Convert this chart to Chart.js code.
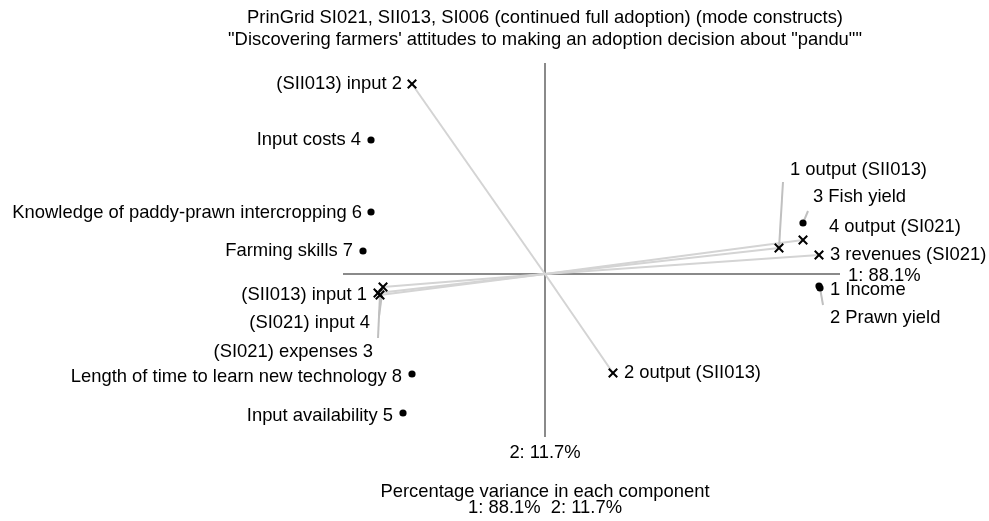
<!DOCTYPE html>
<html>
<head>
<meta charset="utf-8">
<script src="https://cdn.jsdelivr.net/npm/chart.js@4/dist/chart.umd.min.js"></script>
<style>
  html, body { margin: 0; padding: 0; background: #fff; }
  #wrap { width: 989px; height: 521px; position: relative; }
</style>
</head>
<body>
<div id="wrap"><canvas id="c"></canvas></div>
<script>
// ---- Data: principal component scores (component 1, component 2) ----
const titleLines = [
  'PrinGrid SI021, SII013, SI006 (continued full adoption) (mode constructs)',
  '"Discovering farmers\' attitudes to making an adoption decision about "pandu""'
];
const varianceShares = [88.1, 11.7];

// Elements (dots)
const elementNames = [
  'Input costs 4',
  'Knowledge of paddy-prawn intercropping 6',
  'Farming skills 7',
  'Length of time to learn new technology 8',
  'Input availability 5',
  '3 Fish yield',
  '1 Income',
  '2 Prawn yield'
];
const elementPC1 = [-1.74, -1.74, -1.82, -1.33, -1.42, 2.58, 2.74, 2.75];
const elementPC2 = [ 1.34,  0.62,  0.23, -1.00, -1.39, 0.51, -0.12, -0.14];

// Constructs (crosses, joined to the origin)
const constructNames = [
  '(SII013) input 2',
  '(SII013) input 1',
  '(SI021) input 4',
  '(SI021) expenses 3',
  '2 output (SII013)',
  '1 output (SII013)',
  '4 output (SI021)',
  '3 revenues (SI021)'
];
const constructPC1 = [-1.33, -1.67, -1.62, -1.65, 0.68, 2.34, 2.58, 2.74];
const constructPC2 = [ 1.90, -0.19, -0.13, -0.21, -0.99, 0.26, 0.34, 0.19];

// Extent of the drawn component axes
const axis1Span = [-2.02, 2.95];
const axis2Span = [-1.63, 2.11];

// ---- Layout: label placement in pixels relative to each mark ----
// dx/dy: text anchor offset; align: text alignment; leader: end of connector line
const labelPlacement = {
  'Input costs 4': { dx: -10, dy: 0, align: 'right' },
  'Knowledge of paddy-prawn intercropping 6': { dx: -9, dy: 1, align: 'right' },
  'Farming skills 7': { dx: -10, dy: 0, align: 'right' },
  'Length of time to learn new technology 8': { dx: -10, dy: 3, align: 'right' },
  'Input availability 5': { dx: -10, dy: 3, align: 'right' },
  '3 Fish yield': { dx: 10, dy: -26, align: 'left', leader: [5, -12] },
  '1 Income': { dx: 11, dy: 4, align: 'left' },
  '2 Prawn yield': { dx: 10, dy: 30, align: 'left', leader: [3, 17] },
  '(SII013) input 2': { dx: -10, dy: 0, align: 'right' },
  '(SII013) input 1': { dx: -11, dy: 2, align: 'right' },
  '(SI021) input 4': { dx: -13, dy: 36, align: 'right', leader: [-4, 29] },
  '(SI021) expenses 3': { dx: -7, dy: 57, align: 'right', leader: [-2, 43] },
  '2 output (SII013)': { dx: 11, dy: 0, align: 'left' },
  '1 output (SII013)': { dx: 11, dy: -78, align: 'left', leader: [4, -66] },
  '4 output (SI021)': { dx: 26, dy: -13, align: 'left' },
  '3 revenues (SI021)': { dx: 11, dy: 0, align: 'left' }
};

const FONT = '18.4px "Liberation Sans", Arial, sans-serif';

const elementPoints = elementPC1.map((v, i) => ({ x: v, y: elementPC2[i], name: elementNames[i] }));
const constructPoints = constructPC1.map((v, i) => ({ x: v, y: constructPC2[i], name: constructNames[i] }));

const biplotDecor = {
  id: 'biplotDecor',
  beforeDatasetsDraw(chart) {
    const { ctx, scales: { x, y } } = chart;
    const ox = x.getPixelForValue(0), oy = y.getPixelForValue(0);
    ctx.save();
    // component axes
    ctx.strokeStyle = '#8a8a8a';
    ctx.lineWidth = 2;
    ctx.beginPath();
    ctx.moveTo(x.getPixelForValue(axis1Span[0]), oy);
    ctx.lineTo(x.getPixelForValue(axis1Span[1]), oy);
    ctx.moveTo(ox, y.getPixelForValue(axis2Span[1]));
    ctx.lineTo(ox, y.getPixelForValue(axis2Span[0]));
    ctx.stroke();
    // construct vectors from the origin
    ctx.strokeStyle = '#d4d4d4';
    ctx.lineWidth = 2;
    constructPoints.forEach(p => {
      ctx.beginPath();
      ctx.moveTo(ox, oy);
      ctx.lineTo(x.getPixelForValue(p.x), y.getPixelForValue(p.y));
      ctx.stroke();
    });
    // leader lines to displaced labels
    ctx.strokeStyle = '#c0c0c0';
    elementPoints.concat(constructPoints).forEach(p => {
      const lp = labelPlacement[p.name];
      if (!lp || !lp.leader) return;
      const px = x.getPixelForValue(p.x), py = y.getPixelForValue(p.y);
      ctx.beginPath();
      ctx.moveTo(px, py);
      ctx.lineTo(px + lp.leader[0], py + lp.leader[1]);
      ctx.stroke();
    });
    ctx.restore();
  },
  afterDatasetsDraw(chart) {
    const { ctx, scales: { x, y } } = chart;
    const ox = x.getPixelForValue(0), oy = y.getPixelForValue(0);
    ctx.save();
    ctx.font = FONT;
    ctx.fillStyle = '#000';
    ctx.textBaseline = 'middle';
    elementPoints.concat(constructPoints).forEach(p => {
      const lp = labelPlacement[p.name] || { dx: 10, dy: 0, align: 'left' };
      ctx.textAlign = lp.align;
      ctx.fillText(p.name, x.getPixelForValue(p.x) + lp.dx, y.getPixelForValue(p.y) + lp.dy);
    });
    // axis end labels
    ctx.textAlign = 'left';
    ctx.fillText('1: ' + varianceShares[0].toFixed(1) + '%', x.getPixelForValue(axis1Span[1]) + 8, oy + 2);
    ctx.textAlign = 'center';
    ctx.fillText('2: ' + varianceShares[1].toFixed(1) + '%', ox, y.getPixelForValue(axis2Span[0]) + 16);
    // title and footer
    ctx.fillText(titleLines[0], ox, 18);
    ctx.fillText(titleLines[1], ox, 40);
    ctx.fillText('Percentage variance in each component', ox, 492);
    ctx.fillText('1: ' + varianceShares[0].toFixed(1) + '%  2: ' + varianceShares[1].toFixed(1) + '%', ox, 508);
    ctx.restore();
  }
};

new Chart(document.getElementById('c'), {
  type: 'scatter',
  data: {
    datasets: [
      {
        label: 'Elements',
        data: elementPoints,
        pointStyle: 'circle',
        pointRadius: 3.6,
        backgroundColor: '#000',
        borderColor: '#000',
        borderWidth: 0
      },
      {
        label: 'Constructs',
        data: constructPoints,
        pointStyle: 'crossRot',
        pointRadius: 6,
        borderColor: '#000',
        borderWidth: 2
      }
    ]
  },
  options: {
    responsive: true,
    maintainAspectRatio: false,
    animation: false,
    layout: { padding: 0, autoPadding: false },
    plugins: { legend: { display: false }, tooltip: { enabled: false } },
    scales: {
      x: { type: 'linear', display: false, min: -5.45, max: 4.44 },
      y: { type: 'linear', display: false, min: -2.47, max: 2.74 }
    }
  },
  plugins: [biplotDecor]
});
</script>
</body>
</html>
